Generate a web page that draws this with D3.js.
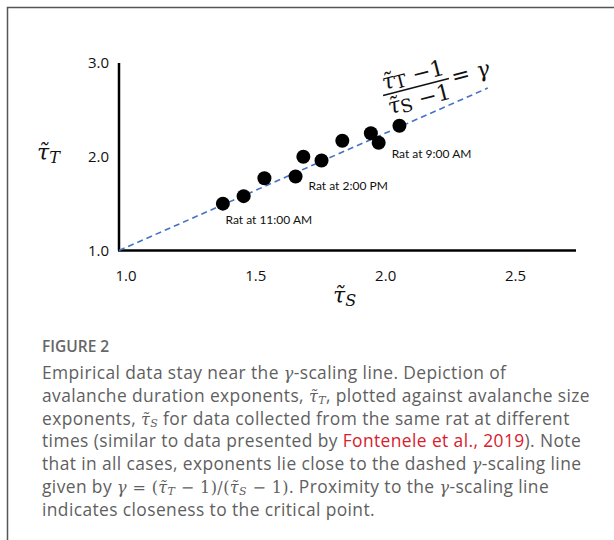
<!DOCTYPE html>
<html>
<head>
<meta charset="utf-8">
<script src="https://cdn.jsdelivr.net/npm/d3@7"></script>
<style>
  body { margin: 0; background: #fff; }
  svg { display: block; }
</style>
</head>
<body>
<div id="chart"></div>
<script>
// exponents
const tauS = [1.40, 1.48, 1.56, 1.68, 1.71, 1.78, 1.86, 1.97, 2.00, 2.08];
const tauT = [1.50, 1.58, 1.77, 1.79, 2.00, 1.96, 2.17, 2.25, 2.15, 2.33];

const xTicks = [1.0, 1.5, 2.0, 2.5];
const yTicks = [1.0, 2.0, 3.0];

const gamma = 1.22;          // slope of the dashed scaling line
const lineEndS = 2.42;

const ratLabels = ["Rat at 11:00 AM", "Rat at 2:00 PM", "Rat at 9:00 AM"];
const ratLabelS = [1.41, 1.73, 2.05];
const ratLabelT = [1.33, 1.69, 2.03];

const captionTitle = "FIGURE 2";
// each line is a list of [kind, text]
const captionLines = [
    [["t", "Empirical data stay near the "], ["g", "γ"], ["t", "-scaling line. Depiction of"]],
    [["t", "avalanche duration exponents, "], ["tau", "T"], ["t", ", plotted against avalanche size"]],
    [["t", "exponents, "], ["tau", "S"], ["t", " for data collected from the same rat at different"]],
    [["t", "times (similar to data presented by "], ["link", "Fontenele et al., 2019"], ["t", "). Note"]],
    [["t", "that in all cases, exponents lie close to the dashed "], ["g", "γ"], ["t", "-scaling line"]],
    [["t", "given by "], ["g", "γ"], ["m", " = ("], ["tau", "T"], ["m", " − 1)/("], ["tau", "S"], ["m", " − 1)"], ["t", ". Proximity to the "], ["g", "γ"], ["t", "-scaling line"]],
    [["t", "indicates closeness to the critical point."]]
];

const W = 614, H = 540;
const svg = d3.select("#chart").append("svg")
    .attr("width", W)
    .attr("height", H);

// frame
svg.append("path")
    .attr("d", `M${W},7.5 H7.5 V${H}`)
    .attr("fill", "none")
    .attr("stroke", "#555")
    .attr("stroke-width", 1.5);

const x = d3.scaleLinear().domain([1, 2.76]).range([119, 576]);
const y = d3.scaleLinear().domain([1, 3]).range([250.5, 63]);

const serif = "'DejaVu Serif', 'Liberation Serif', serif";
const sans = "'Open Sans', Lato, sans-serif";

// axes lines
svg.append("line")
    .attr("x1", x(1)).attr("x2", x(1))
    .attr("y1", y(3)).attr("y2", y(1))
    .attr("stroke", "#000").attr("stroke-width", 2.5);
svg.append("line")
    .attr("x1", x(1) - 1).attr("x2", x(2.76))
    .attr("y1", y(1)).attr("y2", y(1))
    .attr("stroke", "#000").attr("stroke-width", 2.5);

// tick labels
svg.selectAll(".xtick")
    .data(xTicks)
    .enter().append("text")
    .attr("x", d => x(d) + 7)
    .attr("y", 281)
    .attr("text-anchor", "middle")
    .attr("font-family", sans)
    .attr("font-size", 15)
    .attr("fill", "#111")
    .text(d => d3.format(".1f")(d));

svg.selectAll(".ytick")
    .data(yTicks)
    .enter().append("text")
    .attr("x", x(1) - 10)
    .attr("y", d => y(d))
    .attr("dy", "0.35em")
    .attr("text-anchor", "end")
    .attr("font-family", sans)
    .attr("font-size", 15)
    .attr("fill", "#111")
    .text(d => d3.format(".1f")(d));

// axis titles
const yt = svg.append("text")
    .attr("x", 37).attr("y", 160)
    .attr("font-family", serif)
    .attr("font-style", "italic")
    .attr("font-size", 22)
    .attr("fill", "#111");
yt.append("tspan").text("τ\u0303");
yt.append("tspan").attr("dy", 3).attr("font-size", 16).text("T");

const xt = svg.append("text")
    .attr("x", 333).attr("y", 303)
    .attr("font-family", serif)
    .attr("font-style", "italic")
    .attr("font-size", 22)
    .attr("fill", "#111");
xt.append("tspan").text("τ\u0303");
xt.append("tspan").attr("dy", 3).attr("font-size", 16).text("S");

// gamma scaling line
svg.append("line")
    .attr("x1", x(1)).attr("y1", y(1))
    .attr("x2", x(lineEndS)).attr("y2", y(1 + gamma * (lineEndS - 1)))
    .attr("stroke", "#4472c4")
    .attr("stroke-width", 1.6)
    .attr("stroke-dasharray", "6,4");

// points
svg.selectAll(".pt")
    .data(tauS)
    .enter().append("circle")
    .classed("pt", true)
    .attr("cx", d => x(d))
    .attr("cy", (d, i) => y(tauT[i]))
    .attr("r", 7)
    .attr("fill", "#000");

// rat labels
svg.selectAll(".rat")
    .data(ratLabels)
    .enter().append("text")
    .attr("x", (d, i) => x(ratLabelS[i]))
    .attr("y", (d, i) => y(ratLabelT[i]))
    .attr("dy", "0.35em")
    .attr("font-family", "Lato, sans-serif")
    .attr("font-size", 12)
    .attr("fill", "#111")
    .text(d => d);

// rotated formula
const f = svg.append("g")
    .attr("transform", "translate(416,87) rotate(-14.5)")
    .attr("font-family", serif)
    .attr("font-size", 22)
    .attr("fill", "#111");
function tauTerm(g, sub, yy) {
    const t = g.append("text").attr("x", 0).attr("y", yy).attr("text-anchor", "middle");
    t.append("tspan").attr("font-style", "italic").text("τ\u0303");
    t.append("tspan").attr("font-size", 18).attr("dy", 2).text(sub);
    t.append("tspan").attr("dy", -2).text(" −1");
}
tauTerm(f, "T", -5);
tauTerm(f, "S", 20);
f.append("line")
    .attr("x1", -34).attr("x2", 34)
    .attr("y1", 0).attr("y2", 0)
    .attr("stroke", "#111").attr("stroke-width", 1.5);
f.append("text")
    .attr("x", 37).attr("y", 7)
    .text("= ")
    .append("tspan").attr("font-style", "italic").text("γ");

// caption
svg.append("text")
    .attr("x", 42).attr("y", 352)
    .attr("font-family", sans)
    .attr("font-weight", 600)
    .attr("font-size", 15.5)
    .attr("fill", "#666")
    .text(captionTitle);

const cap = svg.append("g")
    .attr("font-family", sans)
    .attr("font-size", 17.4)
    .attr("letter-spacing", 0.4)
    .attr("fill", "#5f5f5f");

captionLines.forEach((line, i) => {
    const t = cap.append("text").attr("x", 42).attr("y", 379 + i * 22.8);
    line.forEach(([kind, s]) => {
        if (kind === "t") {
            t.append("tspan").text(s);
        } else if (kind === "link") {
            t.append("tspan").attr("fill", "#d8202c").text(s);
        } else if (kind === "g") {
            t.append("tspan").attr("font-family", serif).attr("font-style", "italic").attr("font-size", 16).text(s);
        } else if (kind === "m") {
            t.append("tspan").attr("font-family", serif).attr("font-size", 16).text(s);
        } else if (kind === "tau") {
            t.append("tspan").attr("font-family", serif).attr("font-style", "italic").attr("font-size", 16).text("τ\u0303");
            t.append("tspan").attr("font-family", serif).attr("font-style", "italic").attr("font-size", 11)
                .attr("baseline-shift", "-2").text(s);
        }
    });
});
</script>
</body>
</html>
